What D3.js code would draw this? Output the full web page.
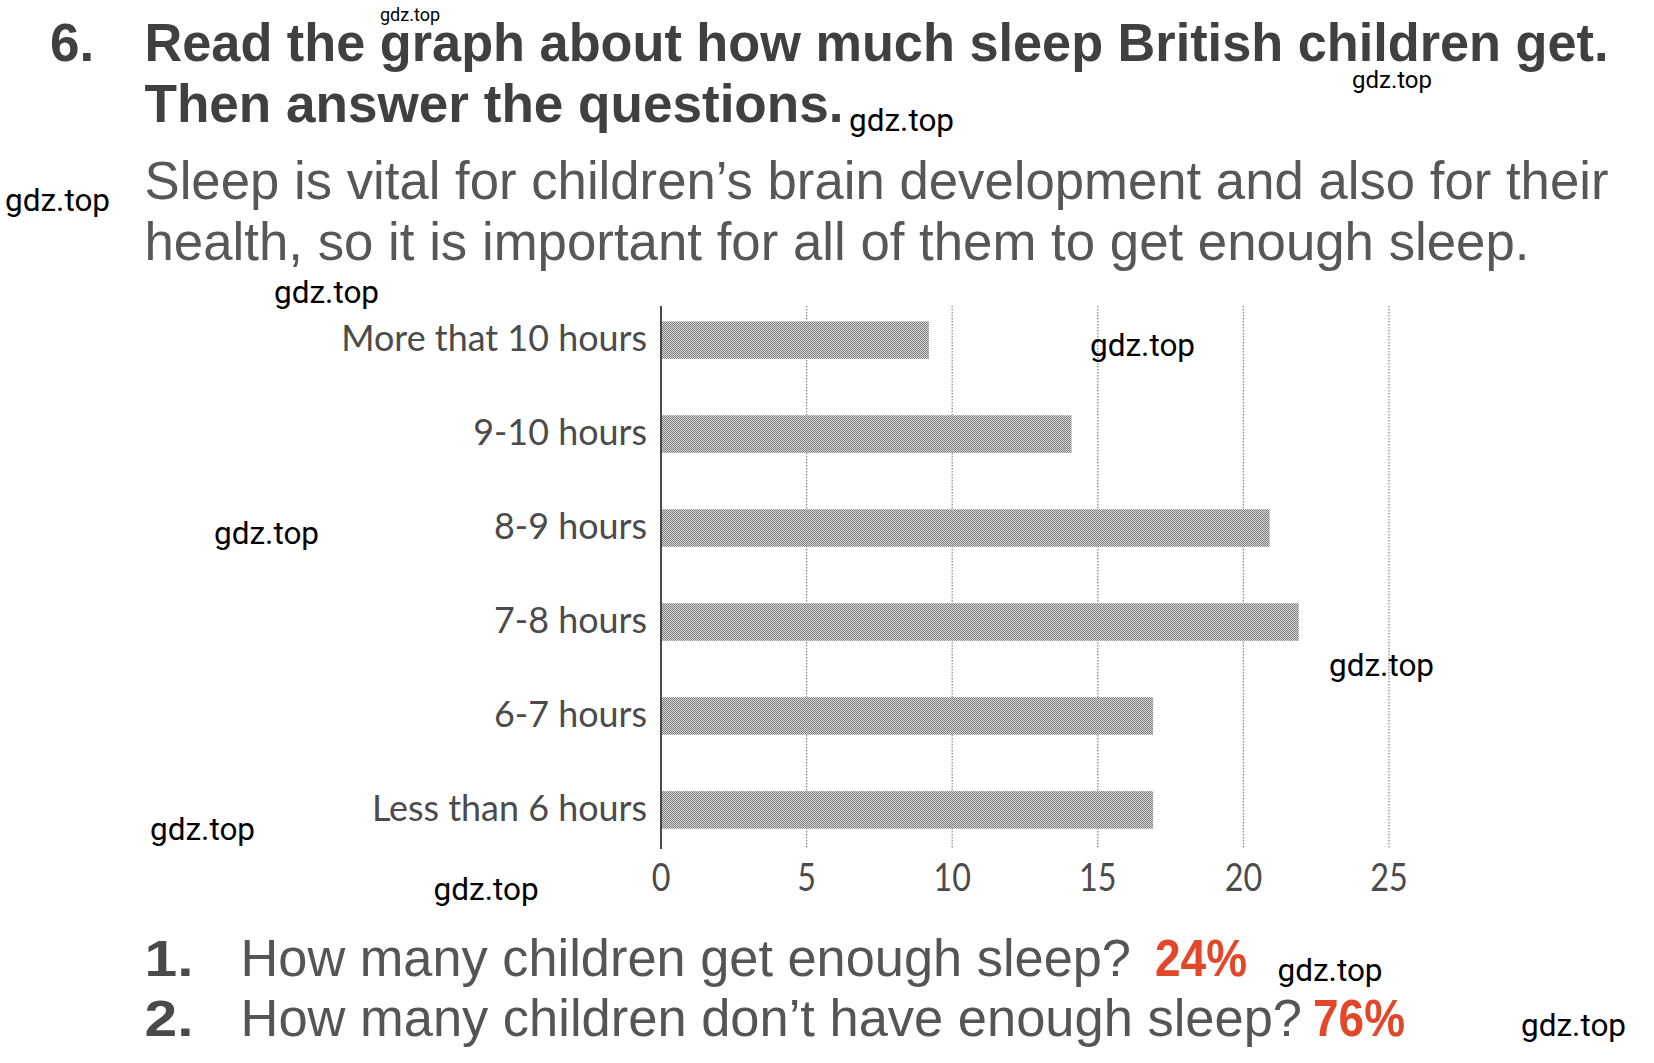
<!DOCTYPE html>
<html>
<head>
<meta charset="utf-8">
<script src="https://cdn.jsdelivr.net/npm/d3@7"></script>
<style>
  html, body { margin: 0; padding: 0; background: #fff; }
  svg { display: block; }
</style>
</head>
<body>
<svg id="chart" width="1654" height="1063"></svg>
<script>
// ---- data ----
const categories = ["More that 10 hours", "9-10 hours", "8-9 hours", "7-8 hours", "6-7 hours", "Less than 6 hours"];
const values = [9.2, 14.1, 20.9, 21.9, 16.9, 16.9];
const tickValues = [0, 5, 10, 15, 20, 25];
const tickLabels = ["0", "5", "10", "15", "20", "25"];
const titleLines = ["Read the graph about how much sleep British children get.", "Then answer the questions."];
const introLines = ["Sleep is vital for children\u2019s brain development and also for their", "health, so it is important for all of them to get enough sleep."];
const questions = ["How many children get enough sleep?", "How many children don\u2019t have enough sleep?"];
const answers = ["24%", "76%"];
const watermark = "gdz.top";

// ---- drawing ----
const svg = d3.select("#chart");

const defs = svg.append("defs");
const pat = defs.append("pattern").attr("id", "dots")
  .attr("width", 2).attr("height", 2).attr("patternUnits", "userSpaceOnUse");
pat.append("rect").attr("width", 2).attr("height", 2).attr("fill", "#d6d6d6");
pat.append("rect").attr("x", 0).attr("y", 0).attr("width", 1).attr("height", 1).attr("fill", "#7e7e7e");
pat.append("rect").attr("x", 1).attr("y", 1).attr("width", 1).attr("height", 1).attr("fill", "#7e7e7e");

// Header
const titleColor = "#404040";
svg.append("text").attr("x", 50).attr("y", 61)
  .attr("font-family", "Liberation Sans, Arial, sans-serif").attr("font-weight", "bold")
  .attr("font-size", 53).attr("fill", titleColor).text("6.");
const titleW = [1464, 699];
const titleY = [61, 122];
titleLines.forEach((t, i) => {
  svg.append("text").attr("x", 144.5).attr("y", titleY[i])
    .attr("font-family", "Liberation Sans, Arial, sans-serif").attr("font-weight", "bold")
    .attr("font-size", 53).attr("fill", titleColor)
    .attr("textLength", titleW[i]).attr("lengthAdjust", "spacingAndGlyphs")
    .text(t);
});
const introW = [1464, 1385];
const introY = [199, 260];
introLines.forEach((t, i) => {
  svg.append("text").attr("x", 144.5).attr("y", introY[i])
    .attr("font-family", "Liberation Sans, Arial, sans-serif")
    .attr("font-size", 53).attr("fill", "#575757")
    .attr("textLength", introW[i]).attr("lengthAdjust", "spacingAndGlyphs")
    .text(t);
});

// Chart
const x = d3.scaleLinear().domain([0, 25]).range([661, 1389]);
const y = d3.scaleBand().domain(categories).range([306, 844]).paddingInner(0.6).paddingOuter(0.163);

// grid lines
svg.append("g").selectAll("line").data(tickValues.filter(d => d > 0)).join("line")
  .attr("x1", d => x(d)).attr("x2", d => x(d))
  .attr("y1", 306).attr("y2", 849)
  .attr("stroke", "#8a8a8a").attr("stroke-width", 1.3)
  .attr("stroke-dasharray", "1.5,1.5");

// bars
svg.append("g").selectAll("rect").data(categories).join("rect")
  .attr("x", x(0))
  .attr("y", d => y(d))
  .attr("width", (d, i) => x(values[i]) - x(0))
  .attr("height", y.bandwidth())
  .attr("fill", "url(#dots)");

// axis line
svg.append("line").attr("x1", x(0)).attr("x2", x(0)).attr("y1", 306).attr("y2", 849)
  .attr("stroke", "#4a4a4a").attr("stroke-width", 2);

// category labels
const labelColor = "#4b4b4b";
svg.append("g").selectAll("text").data(categories).join("text")
  .attr("transform", d => `translate(647,${y(d) + y.bandwidth() / 2 + 11}) scale(0.97,1)`)
  .attr("text-anchor", "end")
  .attr("font-family", "Lato, sans-serif")
  .attr("font-size", 37).attr("fill", labelColor)
  .text(d => d);

// x axis tick labels
const xAxis = d3.axisBottom(x).tickValues(tickValues).tickSize(0)
  .tickFormat((d, i) => tickLabels[i]);
const gx = svg.append("g").attr("transform", "translate(0,891)").call(xAxis);
gx.select(".domain").remove();
gx.selectAll("text")
  .attr("y", 0).attr("dy", null)
  .attr("transform", "scale(0.85,1)")
  .attr("x", 0)
  .attr("font-family", "Lato, sans-serif")
  .attr("font-size", 38).attr("fill", labelColor);
gx.selectAll(".tick").each(function(d) {
  d3.select(this).attr("transform", `translate(${x(d)},0)`);
});

// Questions
const qY = [976, 1036];
const qW = [890.5, 1061.5];
const aX = [1155, 1313];
questions.forEach((q, i) => {
  svg.append("text").attr("x", 144.5).attr("y", qY[i])
    .attr("font-family", "Liberation Sans, Arial, sans-serif").attr("font-weight", "bold")
    .attr("font-size", 50).attr("fill", "#4a4a4a")
    .attr("textLength", 49).attr("lengthAdjust", "spacingAndGlyphs")
    .text((i + 1) + ".");
  svg.append("text").attr("x", 240.5).attr("y", qY[i])
    .attr("font-family", "Liberation Sans, Arial, sans-serif")
    .attr("font-size", 51).attr("fill", "#555")
    .attr("textLength", qW[i]).attr("lengthAdjust", "spacingAndGlyphs")
    .text(q);
  svg.append("text").attr("x", aX[i]).attr("y", qY[i])
    .attr("font-family", "Liberation Sans, Arial, sans-serif").attr("font-weight", "bold")
    .attr("font-size", 51).attr("fill", "#e2472a")
    .attr("textLength", 92).attr("lengthAdjust", "spacingAndGlyphs")
    .text(answers[i]);
});

// Watermarks
const wm = [
  [380, 21, 18], [1352, 88, 24], [849, 131, 31.5], [5, 211, 31.5],
  [274, 303, 31.5], [1090, 356, 31.5], [214, 544, 31.5], [1329, 675.5, 31.5],
  [150, 840, 31.5], [433.6, 900, 31.5], [1277.5, 980.5, 31.5], [1521, 1036, 31.5]
];
svg.append("g").selectAll("text").data(wm).join("text")
  .attr("x", d => d[0]).attr("y", d => d[1])
  .attr("font-family", "Roboto, sans-serif").attr("font-size", d => d[2])
  .attr("fill", "#000")
  .text(watermark);
</script>
</body>
</html>
